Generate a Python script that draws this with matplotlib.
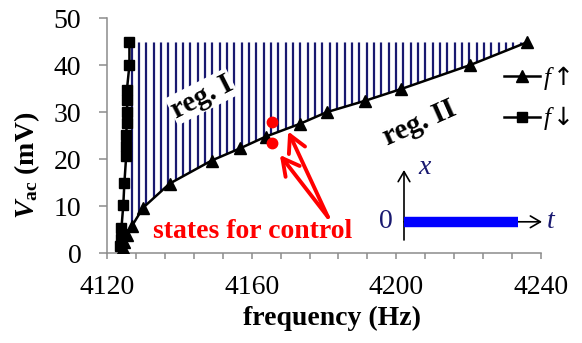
import numpy as np
import matplotlib
matplotlib.use("Agg")
import matplotlib.pyplot as plt
from matplotlib.ticker import MultipleLocator

plt.rcParams['font.family'] = 'Liberation Serif'
plt.rcParams['mathtext.fontset'] = 'custom'
plt.rcParams['mathtext.rm'] = 'Liberation Serif'
plt.rcParams['mathtext.it'] = 'Liberation Serif:italic'
plt.rcParams['mathtext.bf'] = 'Liberation Serif:bold'
plt.rcParams['mathtext.bfit'] = 'Liberation Serif:italic:bold'
plt.rcParams['mathtext.sf'] = 'DejaVu Sans'

# sweep up (triangles)
f_up = [4124.3, 4124.8, 4125.4, 4126.8, 4130.0, 4137.3, 4148.9, 4156.8,
        4163.9, 4173.3, 4180.8, 4191.3, 4201.3, 4220.4, 4236.0]
v_up = [1.2, 2.5, 3.8, 5.7, 9.7, 14.8, 19.7, 22.3,
        24.8, 27.5, 30.0, 32.4, 34.9, 40.0, 44.8]
# sweep down (squares)
f_down = [4126.2, 4126.2, 4125.5, 4125.5, 4125.6, 4125.5, 4125.3, 4125.3,
          4125.3, 4124.8, 4124.5, 4124.0, 4123.8, 4123.6]
v_down = [44.8, 40.0, 34.7, 32.6, 30.1, 27.7, 25.2, 22.7,
          20.6, 14.9, 10.2, 5.4, 3.0, 1.5]
# control states (red dots)
f_ctrl = [4165.7, 4165.5]
v_ctrl = [27.8, 23.4]
arrow_from = (4181.1, 7.7)
arrow_tips = [(4167.8, 20.9), (4170.1, 25.9)]

hatch_f = np.arange(4126.8, 4236, 2.03)
NAVY = '#191970'
GRAY = '#8c8c8c'

fig = plt.figure(figsize=(5.82, 3.43), dpi=100)
ax = fig.add_axes([107/582, 1 - 253.3/343, 434/582, 235.3/343])

# hatched region between the two sweeps
poly_f = f_down + f_up
poly_v = v_down + v_up
region, = ax.fill(poly_f, poly_v, facecolor='none', edgecolor='none')
vl = ax.vlines(hatch_f, 0, 45, colors=NAVY, lw=1.6, zorder=1)
vl.set_clip_path(region)

ax.plot(f_up, v_up, color='black', lw=1.8, marker='^', ms=8.5,
        label='$\\mathit{f}\\,\\mathsf{\u2191}$', zorder=3)
ax.plot(f_down, v_down, color='black', lw=1.8, marker='s', ms=6.5,
        label='$\\mathit{f}\\,\\mathsf{\u2193}$', zorder=3)
ax.plot(f_ctrl, v_ctrl, 'o', color='red', ms=7.5, zorder=4)

for tip in arrow_tips:
    ax.annotate('', xy=tip, xytext=arrow_from,
                arrowprops=dict(arrowstyle='->,head_length=0.6,head_width=0.32',
                                color='red', lw=2.8, mutation_scale=20,
                                shrinkA=0, shrinkB=0), zorder=5)

ax.text(4160.4, 4.7, 'states for control', color='red', fontsize=20,
        fontweight='bold', ha='center', va='center')
ax.text(4146.2, 33.3, 'reg. I', fontsize=21, fontweight='bold', rotation=27,
        ha='center', va='center', zorder=4,
        bbox=dict(facecolor='white', edgecolor='none', pad=1))
ax.text(4206.5, 27.7, 'reg. II', fontsize=21, fontweight='bold', rotation=24,
        ha='center', va='center')

ax.set_xlim(4120, 4240)
ax.set_ylim(0, 50)
ax.xaxis.set_major_locator(MultipleLocator(40))
ax.xaxis.set_minor_locator(MultipleLocator(8))
ax.yaxis.set_major_locator(MultipleLocator(10))
for s in ['top', 'right']:
    ax.spines[s].set_visible(False)
for s in ['left', 'bottom']:
    ax.spines[s].set_color(GRAY)
    ax.spines[s].set_linewidth(1.1)
ax.tick_params(axis='x', which='both', direction='out', length=4.5,
               color=GRAY, width=1.1, labelsize=20, pad=11)
ax.tick_params(axis='y', direction='out', length=5.5, color=GRAY,
               width=1.1, labelsize=20, pad=13)

ax.set_xlabel('frequency (Hz)', fontsize=20, fontweight='bold')
ax.xaxis.set_label_coords(0.518, -0.225)
ax.xaxis.label.set_va('top')
ax.set_ylabel(r'$\mathbfit{V}_{\mathbf{ac}}$ (mV)', fontsize=20,
              fontweight='bold')
ax.yaxis.set_label_coords(-0.15, 0.375)

ax.legend(loc='upper left', bbox_to_anchor=(504/582, 1 - 64/343),
          bbox_transform=fig.transFigure, frameon=False, fontsize=18,
          handlelength=1.45, handletextpad=0.1, labelspacing=0.5,
          borderpad=0, borderaxespad=0)

# inset sketch: x(t) = 0
ins = fig.add_axes([404/582, 1 - 240/343, 138/582, 70/343])
ins.set_xlim(0, 1)
ins.set_ylim(0, 1)
ins.axis('off')
ins.annotate('', xy=(0, 1), xytext=(0, 0),
             arrowprops=dict(arrowstyle='->,head_length=0.6,head_width=0.35',
                             color='black', lw=1.2, mutation_scale=12,
                             shrinkA=0, shrinkB=0))
ins.annotate('', xy=(1, 0.26), xytext=(0, 0.26),
             arrowprops=dict(arrowstyle='->,head_length=0.6,head_width=0.35',
                             color='black', lw=1.2, mutation_scale=12,
                             shrinkA=0, shrinkB=0))
ins.plot([0, 0.826], [0.26, 0.26], color='#0000ff', lw=7.5,
         solid_capstyle='butt', zorder=5)
ins.text(0.15, 1.04, 'x', color=NAVY, fontsize=20, style='italic',
         ha='center', va='center')
ins.text(-0.13, 0.26, '0', color=NAVY, fontsize=20, ha='center', va='center')
ins.text(1.06, 0.26, 't', color=NAVY, fontsize=20, style='italic',
         ha='center', va='center')

fig.savefig('out.png', dpi=100)
